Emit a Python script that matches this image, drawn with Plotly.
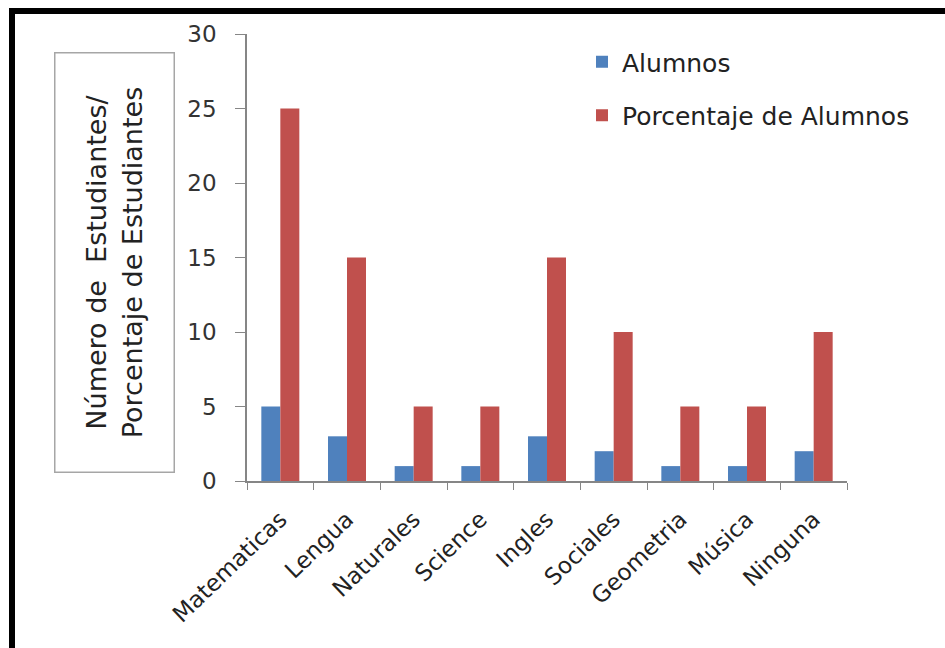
import plotly.graph_objects as go

# Subjects and the two measured series
materias = ["Matematicas", "Lengua", "Naturales", "Science", "Ingles",
            "Sociales", "Geometria", "Música", "Ninguna"]
alumnos = [5, 3, 1, 1, 3, 2, 1, 1, 2]
porcentaje = [25, 15, 5, 5, 15, 10, 5, 5, 10]
y_ticks = [0, 5, 10, 15, 20, 25, 30]

AZUL = "#4F81BD"
ROJO = "#C0504D"
FUENTE = "DejaVu Sans, Open Sans, sans-serif"

W, H = 945, 648
# plot area in pixels
L, R, T, B = 247, 847, 34, 481
pw, ph = R - L, B - T


def px_x(x):
    return (x - L) / pw


def px_y(y):
    return (B - y) / ph


fig = go.Figure()
fig.add_trace(go.Bar(x=materias, y=alumnos, name="Alumnos",
                     marker=dict(color=AZUL, line=dict(width=0)),
                     legendgroup="a"))
fig.add_trace(go.Bar(x=materias, y=porcentaje, name="Porcentaje de Alumnos",
                     marker=dict(color=ROJO, line=dict(width=0)),
                     legendgroup="b"))

fig.update_layout(
    width=W, height=H,
    margin=dict(l=L, r=W - R, t=T, b=H - B),
    paper_bgcolor="white", plot_bgcolor="white",
    barmode="group", bargap=0.43, bargroupgap=0,
    font=dict(family=FUENTE, color="#222222"),
    showlegend=True,
    legend=dict(x=px_x(582), y=px_y(39), xanchor="left", yanchor="top",
                font=dict(size=25, color="#222222", family=FUENTE),
                tracegroupgap=18, bgcolor="rgba(0,0,0,0)"),
    xaxis=dict(showline=True, linecolor="#868686", linewidth=1.5,
               ticks="outside", ticklen=7, tickcolor="#868686",
               tickson="boundaries", tickangle=-44,
               ticklabelstandoff=14,
               tickfont=dict(size=23, color="#222222"),
               showgrid=False, zeroline=False),
    yaxis=dict(range=[0, 30], tickvals=y_ticks, showline=True,
               linecolor="#868686", linewidth=1.5,
               ticks="outside", ticklen=10, tickcolor="#868686",
               ticklabelstandoff=14,
               tickfont=dict(size=23, color="#333333"),
               showgrid=False, zeroline=False),
)

# Boxed axis title on the left
fig.add_annotation(
    xref="paper", yref="paper",
    x=px_x(114), y=px_y(263), xanchor="center", yanchor="middle",
    text="Número de  Estudiantes/<br>Porcentaje de Estudiantes",
    textangle=-90, showarrow=False,
    font=dict(size=27, color="#222222", family=FUENTE),
    bordercolor="#A6A6A6", borderwidth=1.5,
    width=416, height=116, align="center",
)

# Heavy frame along the top and left edges
fig.add_shape(type="line", xref="paper", yref="paper",
              x0=px_x(9), x1=px_x(W), y0=px_y(11), y1=px_y(11),
              line=dict(color="black", width=6))
fig.add_shape(type="line", xref="paper", yref="paper",
              x0=px_x(12), x1=px_x(12), y0=px_y(8), y1=px_y(H),
              line=dict(color="black", width=6))

fig.write_html("out.html")
